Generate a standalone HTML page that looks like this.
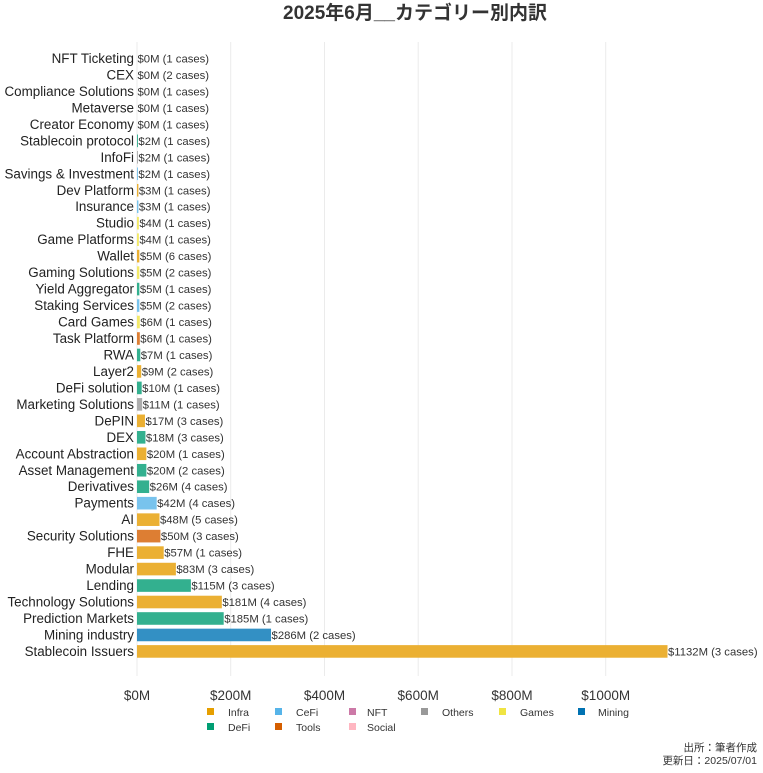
<!DOCTYPE html>
<html><head><meta charset="utf-8"><style>
body{margin:0;background:#fff}
svg text{font-family:"Liberation Sans","Noto Sans CJK JP",sans-serif}
</style></head><body>
<svg id="c" width="763" height="768" xmlns="http://www.w3.org/2000/svg">
<text x="415" y="19" text-anchor="middle" font-size="19" font-weight="bold" fill="#333">2025年6月__カテゴリー別内訳</text>
<g stroke="#ebebeb" stroke-width="1">
<line x1="137" y1="42" x2="137" y2="676"/><line x1="230.7" y1="42" x2="230.7" y2="676"/><line x1="324.5" y1="42" x2="324.5" y2="676"/><line x1="418.2" y1="42" x2="418.2" y2="676"/><line x1="512" y1="42" x2="512" y2="676"/><line x1="605.7" y1="42" x2="605.7" y2="676"/>
</g>
<g id="bars"></g>
<g font-size="13.5" fill="#333" text-anchor="middle">
<text x="137" y="700">$0M</text><text x="230.7" y="700">$200M</text><text x="324.5" y="700">$400M</text><text x="418.2" y="700">$600M</text><text x="512" y="700">$800M</text><text x="605.7" y="700">$1000M</text>
</g>
<g font-size="10.5" fill="#333">
<rect x="207" y="708" width="7" height="7" fill="#E69F00"/><text x="228" y="716">Infra</text>
<rect x="275" y="708" width="7" height="7" fill="#56B4E9"/><text x="296" y="716">CeFi</text>
<rect x="349" y="708" width="7" height="7" fill="#CC79A7"/><text x="367" y="716">NFT</text>
<rect x="421" y="708" width="7" height="7" fill="#999999"/><text x="442" y="716">Others</text>
<rect x="499" y="708" width="7" height="7" fill="#F0E442"/><text x="520" y="716">Games</text>
<rect x="578" y="708" width="7" height="7" fill="#0072B2"/><text x="598" y="716">Mining</text>
<rect x="207" y="723" width="7" height="7" fill="#009E73"/><text x="228" y="731">DeFi</text>
<rect x="275" y="723" width="7" height="7" fill="#D55E00"/><text x="296" y="731">Tools</text>
<rect x="349" y="723" width="7" height="7" fill="#FFB6C1"/><text x="367" y="731">Social</text>
</g>
<g font-size="10.5" fill="#333" text-anchor="end">
<text x="757" y="751">出所：筆者作成</text><text x="757" y="764">更新日：2025/07/01</text>
</g>
</svg>
<script>
const C={I:"#ebb033",D:"#33b08f",C:"#78c3ed",T:"#dd7e33",O:"#adadad",G:"#f3e968",M:"#3390c4",N:"#d694b9"};
const d=[["NFT Ticketing",0,1,"N"],["CEX",0,2,"C"],["Compliance Solutions",0,1,"I"],["Metaverse",0,1,"G"],["Creator Economy",0,1,"O"],["Stablecoin protocol",2,1,"D"],["InfoFi",2,1,"O"],["Savings & Investment",2,1,"C"],["Dev Platform",3,1,"I"],["Insurance",3,1,"C"],["Studio",4,1,"G"],["Game Platforms",4,1,"G"],["Wallet",5,6,"I"],["Gaming Solutions",5,2,"G"],["Yield Aggregator",5,1,"D"],["Staking Services",5,2,"C"],["Card Games",6,1,"G"],["Task Platform",6,1,"T"],["RWA",7,1,"D"],["Layer2",9,2,"I"],["DeFi solution",10,1,"D"],["Marketing Solutions",11,1,"O"],["DePIN",17,3,"I"],["DEX",18,3,"D"],["Account Abstraction",20,1,"I"],["Asset Management",20,2,"D"],["Derivatives",26,4,"D"],["Payments",42,4,"C"],["AI",48,5,"I"],["Security Solutions",50,3,"T"],["FHE",57,1,"I"],["Modular",83,3,"I"],["Lending",115,3,"D"],["Technology Solutions",181,4,"I"],["Prediction Markets",185,1,"D"],["Mining industry",286,2,"M"],["Stablecoin Issuers",1132,3,"I"]];
const k=0.46865,ns="http://www.w3.org/2000/svg",g=document.getElementById("bars");
function el(t,a,txt){const e=document.createElementNS(ns,t);for(const x in a)e.setAttribute(x,a[x]);if(txt!=null)e.textContent=txt;g.appendChild(e);}
d.forEach((r,i)=>{const y=58.5+i*16.47,w=r[1]*k;
if(w>0)el("rect",{x:137,y:y-6.3,width:w,height:12.6,fill:C[r[3]]});
el("text",{x:134,y:y+4.5,"font-size":"13.4","text-anchor":"end",fill:"#222"},r[0]);
el("text",{x:137+w+0.5,y:y+4,"font-size":"11.3",fill:"#333"},"$"+r[1]+"M ("+r[2]+" cases)");});
</script>
</body></html>
